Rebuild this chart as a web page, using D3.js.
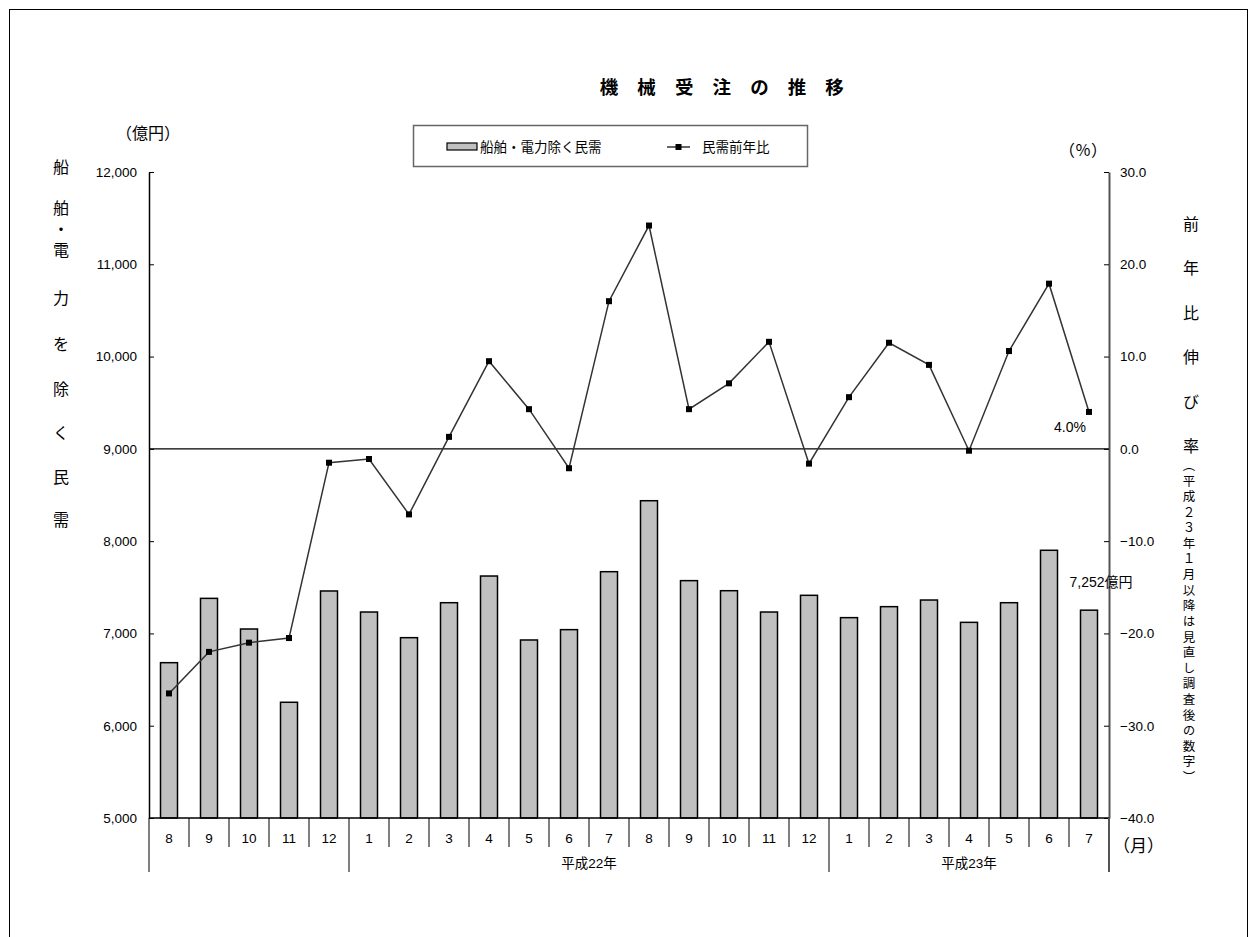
<!DOCTYPE html>
<html lang="ja">
<head>
<meta charset="utf-8">
<title>機械受注の推移</title>
<script src="https://cdn.jsdelivr.net/npm/d3@7"></script>
<style>
  html, body { margin: 0; padding: 0; background: #fff; }
  svg { display: block; }
  text { font-family: "Liberation Sans", "Noto Sans CJK JP", sans-serif; fill: #000; }
</style>
</head>
<body>
<svg id="chart" width="1257" height="937"></svg>
<script>
// Month labels along the x axis (平成21年8月 – 平成23年7月)
const months = ["8","9","10","11","12","1","2","3","4","5","6","7","8","9","10","11","12","1","2","3","4","5","6","7"];
// 船舶・電力除く民需 (億円)
const orders = [6683,7380,7048,6254,7460,7232,6954,7333,7622,6929,7041,7669,8438,7572,7463,7232,7413,7171,7290,7362,7120,7333,7901,7252];
// 民需前年比 (%)
const yoy = [-26.5,-22.0,-21.0,-20.5,-1.5,-1.1,-7.1,1.3,9.5,4.3,-2.1,16.0,24.2,4.3,7.1,11.6,-1.6,5.6,11.5,9.1,-0.2,10.6,17.9,4.0];
// Year groups: [label, first index, end index]
const yearGroups = [["", 0, 5], ["平成22年", 5, 17], ["平成23年", 17, 24]];
const leftTicks = [5000,6000,7000,8000,9000,10000,11000,12000];
const rightTicks = [-40,-30,-20,-10,0,10,20,30];

const svg = d3.select("#chart");
const m = { left: 149, right: 1109, top: 172, bottom: 818 };
const cjk = "'Noto Sans CJK JP', sans-serif";

// outer frame
svg.append("rect").attr("x", 9.5).attr("y", 9.5).attr("width", 1238).attr("height", 940)
  .attr("fill", "none").attr("stroke", "#000").attr("stroke-width", 1);

const x = d3.scaleBand().domain(d3.range(months.length)).range([m.left, m.right]).padding(0);
const yL = d3.scaleLinear().domain([5000, 12000]).range([m.bottom, m.top]);
const yR = d3.scaleLinear().domain([-40, 30]).range([m.bottom, m.top]);

// title, spaced out character by character
const title = "機械受注の推移";
const tStep = 37.6, tX0 = 609;
svg.append("g").selectAll("text").data(Array.from(title)).join("text")
  .attr("x", (d, i) => tX0 + i * tStep).attr("y", 94)
  .attr("text-anchor", "middle").attr("font-size", 18.5).attr("font-weight", "bold")
  .style("font-family", cjk)
  .text(d => d);

// bars
const barW = 17;
svg.append("g").selectAll("rect").data(orders).join("rect")
  .attr("x", (d, i) => x(i) + x.bandwidth() / 2 - barW / 2)
  .attr("y", d => yL(d))
  .attr("width", barW)
  .attr("height", d => yL(5000) - yL(d))
  .attr("fill", "#c0c0c0").attr("stroke", "#000").attr("stroke-width", 1.5);

// zero line of the percentage axis
svg.append("line")
  .attr("x1", m.left).attr("x2", m.right)
  .attr("y1", yR(0)).attr("y2", yR(0))
  .attr("stroke", "#000").attr("stroke-width", 1.2);

// left axis
const axL = svg.append("g").attr("transform", `translate(${m.left},0)`)
  .call(d3.axisLeft(yL).tickValues(leftTicks).tickFormat(d3.format(","))
    .tickSizeInner(-5).tickSizeOuter(0).tickPadding(12));
axL.select(".domain").attr("stroke", "#000").attr("stroke-width", 1.5);
axL.selectAll(".tick line").attr("stroke", "#000");
axL.selectAll("text").attr("font-size", 13.5).style("font-family", "'Liberation Sans', sans-serif");

// right axis
const axR = svg.append("g").attr("transform", `translate(${m.right},0)`)
  .call(d3.axisRight(yR).tickValues(rightTicks).tickFormat(d3.format(".1f"))
    .tickSizeInner(-5).tickSizeOuter(0).tickPadding(11));
axR.select(".domain").attr("stroke", "#555").attr("stroke-width", 2);
axR.selectAll(".tick line").attr("stroke", "#000");
axR.selectAll("text").attr("font-size", 13.5).style("font-family", "'Liberation Sans', sans-serif");

// baseline
svg.append("line").attr("x1", m.left).attr("x2", m.right)
  .attr("y1", m.bottom).attr("y2", m.bottom).attr("stroke", "#000").attr("stroke-width", 1.5);

// category separators and month labels
const xg = svg.append("g");
const groupStarts = new Set(yearGroups.map(g => g[1]));
xg.selectAll("line.sep").data(d3.range(months.length + 1)).join("line")
  .attr("class", "sep")
  .attr("x1", i => i < months.length ? x(i) : m.right)
  .attr("x2", i => i < months.length ? x(i) : m.right)
  .attr("y1", m.bottom)
  .attr("y2", i => (groupStarts.has(i) || i === months.length) ? 872 : 847)
  .attr("stroke", i => i === months.length ? "#555" : "#000")
  .attr("stroke-width", i => i === months.length ? 2 : 1);
xg.selectAll("text.month").data(months).join("text")
  .attr("class", "month")
  .attr("x", (d, i) => x(i) + x.bandwidth() / 2)
  .attr("y", 843).attr("text-anchor", "middle").attr("font-size", 13.5)
  .text(d => d);
xg.selectAll("text.year").data(yearGroups.filter(g => g[0])).join("text")
  .attr("class", "year")
  .attr("x", g => (x(g[1]) + (g[2] < months.length ? x(g[2]) : m.right)) / 2)
  .attr("y", 868).attr("text-anchor", "middle").attr("font-size", 13.5)
  .text(g => g[0]);
svg.append("text").attr("x", 1113).attr("y", 852).attr("font-size", 17)
  .style("font-family", cjk).text("（月）");

// line series
const line = d3.line().x((d, i) => x(i) + x.bandwidth() / 2).y(d => yR(d));
svg.append("path").datum(yoy).attr("d", line)
  .attr("fill", "none").attr("stroke", "#333").attr("stroke-width", 1.5);
svg.append("g").selectAll("rect").data(yoy).join("rect")
  .attr("x", (d, i) => x(i) + x.bandwidth() / 2 - 3)
  .attr("y", d => yR(d) - 3)
  .attr("width", 6).attr("height", 6).attr("fill", "#000");

// value labels for the latest month
const last = months.length - 1;
svg.append("text")
  .attr("x", x(last) + x.bandwidth() / 2 - 19).attr("y", yR(yoy[last]) + 20)
  .attr("text-anchor", "middle").attr("font-size", 14)
  .text(d3.format(".1f")(yoy[last]) + "%");
svg.append("text")
  .attr("x", x(last) + x.bandwidth() / 2 + 12).attr("y", yL(orders[last]) - 23)
  .attr("text-anchor", "middle").attr("font-size", 14)
  .text(d3.format(",")(orders[last]) + "億円");

// unit labels
svg.append("text").attr("x", 116).attr("y", 139).attr("font-size", 16)
  .style("font-family", cjk).text("（億円）");
svg.append("text").attr("x", 1059).attr("y", 156).attr("font-size", 16)
  .style("font-family", cjk).text("（％）");

// left axis title (vertical); "舶・電" is set as one vertical run
const vert = sel => sel.style("writing-mode", "vertical-rl").style("text-orientation", "upright");
const leftTitle = [["船",167],["力",298],["を",344],["除",389],["く",433],["民",477],["需",520]];
svg.append("g").selectAll("text").data(leftTitle).join("text")
  .attr("x", 61).attr("y", d => d[1] + 6).attr("text-anchor", "middle")
  .attr("font-size", 16).style("font-family", cjk)
  .text(d => d[0]);
svg.append("text")
  .attr("x", 61).attr("y", 200)
  .attr("font-size", 16).style("font-family", cjk)
  .call(vert).style("letter-spacing", "5px")
  .text("舶・電");

// right axis title (vertical)
const rightTitle = ["前","年","比","伸","び","率"];
svg.append("g").selectAll("text").data(rightTitle).join("text")
  .attr("x", 1191).attr("y", (d, i) => 230 + i * 44.4).attr("text-anchor", "middle")
  .attr("font-size", 16).style("font-family", cjk)
  .text(d => d);
svg.append("text")
  .attr("x", 1189).attr("y", 459)
  .attr("font-size", 12.5)
  .style("font-family", cjk)
  .call(vert).style("letter-spacing", "3.1px")
  .text("（平成２３年１月以降は見直し調査後の数字）");

// legend
const lg = svg.append("g");
lg.append("rect").attr("x", 413.5).attr("y", 125.5).attr("width", 394).attr("height", 41)
  .attr("fill", "#fff").attr("stroke", "#666").attr("stroke-width", 1.5);
lg.append("rect").attr("x", 447).attr("y", 143).attr("width", 30).attr("height", 7)
  .attr("fill", "#c0c0c0").attr("stroke", "#000").attr("stroke-width", 1.2);
lg.append("text").attr("x", 480).attr("y", 151.5).attr("font-size", 13.5)
  .style("font-family", cjk).text("船舶・電力除く民需");
lg.append("line").attr("x1", 667).attr("x2", 690).attr("y1", 147).attr("y2", 147)
  .attr("stroke", "#333").attr("stroke-width", 1.5);
lg.append("rect").attr("x", 675.5).attr("y", 144).attr("width", 6).attr("height", 6).attr("fill", "#000");
lg.append("text").attr("x", 702).attr("y", 151.5).attr("font-size", 13.5)
  .style("font-family", cjk).text("民需前年比");
</script>
</body>
</html>
